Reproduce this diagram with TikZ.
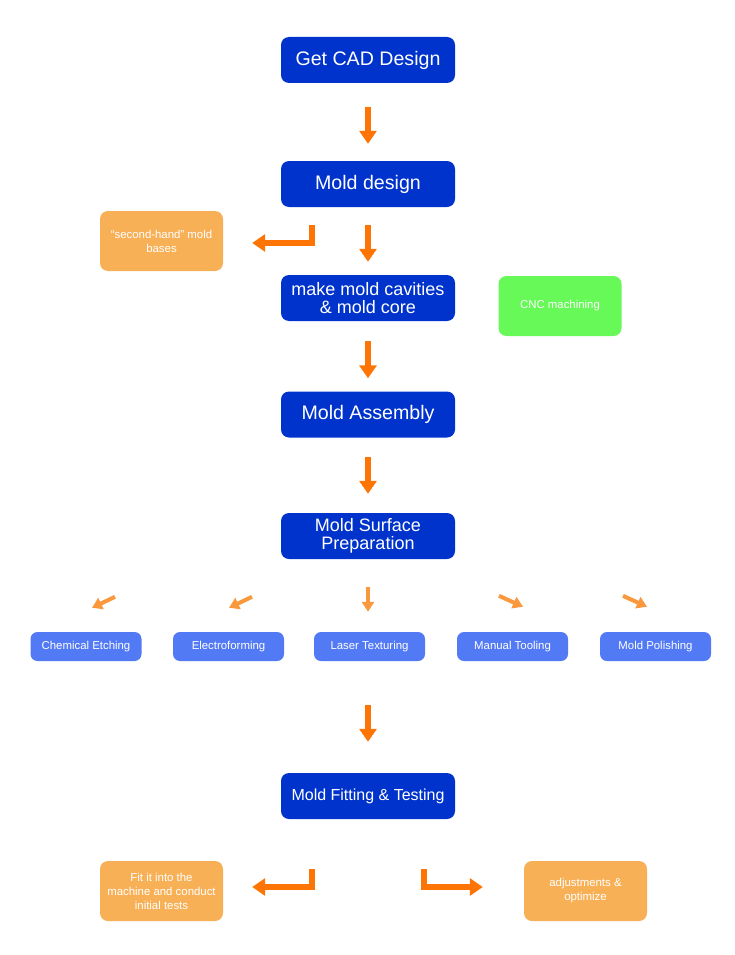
\documentclass[tikz,border=0pt]{standalone}
\usepackage{fontspec}
\setmainfont{Liberation Sans}
\usetikzlibrary{arrows.meta}
\definecolor{mainblue}{RGB}{0,51,204}
\definecolor{lightblue}{RGB}{83,122,245}
\definecolor{arrorange}{RGB}{255,117,5}
\definecolor{smallorange}{RGB}{250,152,62}
\definecolor{boxorange}{RGB}{248,176,86}
\definecolor{boxgreen}{RGB}{102,249,87}
\tikzset{
  mainbox/.style={fill=mainblue, text=white, rounded corners=8pt, minimum width=174pt, minimum height=46pt, inner sep=0pt, align=center, font=\fontsize{19.6}{21}\selectfont},
  mainboxtwo/.style={mainbox, font=\fontsize{18}{18.5}\selectfont},
  subbox/.style={fill=lightblue, text=white, rounded corners=7pt, minimum width=111pt, minimum height=29pt, inner sep=0pt, align=center, font=\fontsize{11.4}{13}\selectfont},
  sidebox/.style={fill=boxorange, text=white, rounded corners=8pt, minimum width=123pt, minimum height=60pt, inner sep=0pt, align=center, font=\fontsize{11.4}{14}\selectfont},
  greenbox/.style={sidebox, fill=boxgreen},
  bigarrow/.style={draw=arrorange, line width=6pt, line join=miter, -{Triangle[width=17pt,length=13pt]}},
  smallarrow/.style={draw=smallorange, line width=4pt, -{Triangle[width=12pt,length=10pt]}}
}
\begin{document}
\begin{tikzpicture}[x=1pt,y=-1pt]
\useasboundingbox (0,0) rectangle (735,955);
\node[mainbox] (cad) at (368,60) {Get CAD Design};
\node[mainbox] (mold) at (368,184) {Mold design};
\node[mainboxtwo] (cav) at (368,298) {make mold cavities\\\& mold core};
\node[mainbox] (asm) at (368,414.5) {Mold Assembly};
\node[mainboxtwo] (prep) at (368,536) {Mold Surface\\Preparation};
\node[mainbox, font=\fontsize{16}{18}\selectfont] (fit) at (368,796) {Mold Fitting \& Testing};

\node[sidebox] (sh) at (161.5,241) {“second-hand” mold\\bases};
\node[greenbox] (cnc) at (560,306) {CNC machining};
\node[sidebox] (fitin) at (161.5,891) {Fit it into the\\machine and conduct\\initial tests};
\node[sidebox] (adj) at (585.5,891) {adjustments \&\\optimize};

\node[subbox] (chem) at (86,646.5) {Chemical Etching};
\node[subbox] (elec) at (228.5,646.5) {Electroforming};
\node[subbox] (laser) at (369.5,646.5) {Laser Texturing};
\node[subbox] (man) at (512.5,646.5) {Manual Tooling};
\node[subbox] (pol) at (655.5,646.5) {Mold Polishing};

\draw[bigarrow] ([yshift=-24pt]cad.south) -- ([yshift=17pt]mold.north);
\draw[bigarrow] ([yshift=-18pt]mold.south) -- ([yshift=13pt]cav.north);
\draw[bigarrow] ([yshift=-20pt]cav.south) -- ([yshift=13pt]asm.north);
\draw[bigarrow] ([yshift=-19pt]asm.south) -- ([yshift=19pt]prep.north);
\draw[bigarrow] ([yshift=-146pt]prep.south) -- ([yshift=31pt]fit.north);

\draw[bigarrow] ([xshift=-56pt,yshift=-18pt]mold.south) |- ([xshift=29pt,yshift=-2pt]sh.east);
\draw[bigarrow] ([xshift=-56pt,yshift=-50pt]fit.south) |- ([xshift=29pt,yshift=4pt]fitin.east);
\draw[bigarrow] ([xshift=56pt,yshift=-50pt]fit.south) |- ([xshift=-41pt,yshift=4pt]adj.west);

\draw[smallarrow] ([xshift=29pt,yshift=35pt]chem.north) -- ([xshift=6pt,yshift=24pt]chem.north);
\draw[smallarrow] ([xshift=23.5pt,yshift=35pt]elec.north) -- ([xshift=0.5pt,yshift=24pt]elec.north);
\draw[smallarrow] ([xshift=-1.5pt,yshift=45pt]laser.north) -- ([xshift=-1.5pt,yshift=20pt]laser.north);
\draw[smallarrow] ([xshift=-13.5pt,yshift=36pt]man.north) -- ([xshift=10.5pt,yshift=25pt]man.north);
\draw[smallarrow] ([xshift=-32.5pt,yshift=36pt]pol.north) -- ([xshift=-8.5pt,yshift=25pt]pol.north);
\end{tikzpicture}
\end{document}
